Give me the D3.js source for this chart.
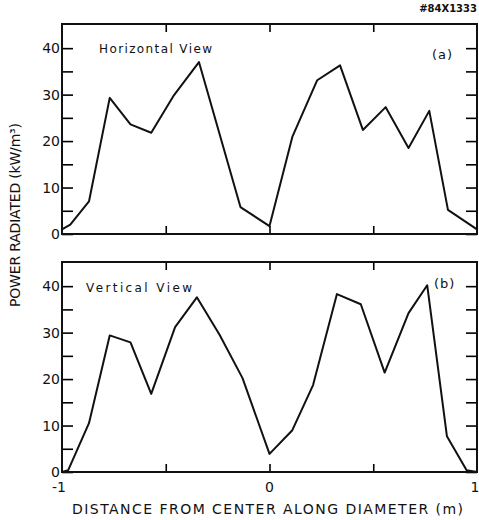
<!DOCTYPE html>
<html>
<head>
<meta charset="utf-8">
<script src="https://cdn.jsdelivr.net/npm/d3@7"></script>
<style>
  body { margin: 0; background: #fff; }
  text { font-family: "DejaVu Sans", sans-serif; fill: #111; }
</style>
</head>
<body>
<div id="chart"></div>
<script>
// data
var horizX = [-1, -0.96, -0.87, -0.77, -0.67, -0.57, -0.46, -0.34, -0.14, 0, 0.11, 0.23, 0.34, 0.45, 0.56, 0.67, 0.77, 0.86, 1];
var horizY = [1, 2, 7, 29.3, 23.6, 21.8, 29.9, 37, 5.8, 1.7, 20.9, 33.1, 36.3, 22.4, 27.3, 18.5, 26.5, 5.2, 1];

var vertX = [-1, -0.97, -0.87, -0.77, -0.67, -0.57, -0.455, -0.35, -0.24, -0.13, 0, 0.11, 0.21, 0.325, 0.44, 0.555, 0.67, 0.76, 0.855, 0.95, 1];
var vertY = [0, 0.4, 10.5, 29.4, 27.9, 16.8, 31.2, 37.6, 29.5, 20.2, 3.9, 9, 18.7, 38.3, 36.1, 21.4, 34.2, 40.2, 7.7, 0.4, 0];

var yTicks = [0, 10, 20, 30, 40];
var yMinor = [5, 15, 25, 35];
var xTicks = [-0.5, 0, 0.5];
var xLabels = [-1, 0, 1];

var width = 479, height = 520;
var left = 62, right = 477;

var svg = d3.select("#chart").append("svg")
  .attr("width", width)
  .attr("height", height);

var x = d3.scaleLinear().domain([-1, 1]).range([left, right]);

var panels = [
  {xs: horizX, ys: horizY, top: 24, bottom: 234, title: "Horizontal View", tw: 113, tag: "(a)", tx: 99, ty: 53, tagX: 432, tagY: 59},
  {xs: vertX, ys: vertY, top: 262, bottom: 472, title: "Vertical View", tw: 106, tag: "(b)", tx: 86, ty: 292, tagX: 434, tagY: 288}
];

panels.forEach(function(p) {
  var y = d3.scaleLinear().domain([0, 45.2]).range([p.bottom, p.top]);
  var g = svg.append("g");

  // ticks, pointing inward
  g.append("g")
    .attr("transform", "translate(" + left + ",0)")
    .call(d3.axisRight(y).tickValues(yTicks.concat(yMinor)).tickSize(11).tickFormat(""))
    .call(function(a) { a.select(".domain").remove(); a.selectAll("line").attr("stroke-width", 1.6); });
  g.append("g")
    .attr("transform", "translate(" + right + ",0)")
    .call(d3.axisLeft(y).tickValues(yTicks.concat(yMinor)).tickSize(11).tickFormat(""))
    .call(function(a) { a.select(".domain").remove(); a.selectAll("line").attr("stroke-width", 1.6); });
  g.append("g")
    .attr("transform", "translate(0," + p.top + ")")
    .call(d3.axisBottom(x).tickValues(xTicks).tickSize(8).tickFormat(""))
    .call(function(a) { a.select(".domain").remove(); a.selectAll("line").attr("stroke-width", 1.6); });
  g.append("g")
    .attr("transform", "translate(0," + p.bottom + ")")
    .call(d3.axisTop(x).tickValues(xTicks).tickSize(8).tickFormat(""))
    .call(function(a) { a.select(".domain").remove(); a.selectAll("line").attr("stroke-width", 1.6); });

  // frame
  g.append("rect")
    .attr("x", left).attr("y", p.top)
    .attr("width", right - left).attr("height", p.bottom - p.top)
    .attr("fill", "none").attr("stroke", "#111").attr("stroke-width", 2);

  // y tick labels
  g.selectAll(".ylab").data(yTicks).enter().append("text")
    .attr("x", left - 2)
    .attr("y", function(d) { return y(d) + 5; })
    .attr("text-anchor", "end")
    .style("font-size", "14px")
    .text(function(d) { return d; });

  // the line
  var line = d3.line()
    .x(function(d, i) { return x(p.xs[i]); })
    .y(function(d) { return y(d); });
  g.append("path")
    .datum(p.ys)
    .attr("d", line)
    .attr("fill", "none")
    .attr("stroke", "#111")
    .attr("stroke-width", 2)
    .attr("stroke-linejoin", "round");

  g.append("text")
    .attr("x", p.tx).attr("y", p.ty)
    .attr("textLength", p.tw)
    .attr("lengthAdjust", "spacing")
    .style("font-size", "12px")
    .text(p.title);
  g.append("text")
    .attr("x", p.tagX).attr("y", p.tagY)
    .style("font-size", "13px")
    .style("letter-spacing", "1px")
    .text(p.tag);
});

// x tick labels under the bottom panel
svg.selectAll(".xlab").data(xLabels).enter().append("text")
  .attr("x", function(d) { return x(d) + (d === 1 ? -2 : (d === -1 ? -3 : 0)); })
  .attr("y", 492)
  .attr("text-anchor", "middle")
  .style("font-size", "14px")
  .text(function(d) { return d === 1 ? "1" : (d === -1 ? "-1" : "0"); });

// axis titles
svg.append("text")
  .attr("x", 72).attr("y", 514)
  .attr("textLength", 391)
  .attr("lengthAdjust", "spacing")
  .style("font-size", "14px")
  .text("DISTANCE FROM CENTER ALONG DIAMETER (m)");

svg.append("text")
  .attr("transform", "translate(20,307) rotate(-90)")
  .attr("textLength", 184)
  .attr("lengthAdjust", "spacing")
  .style("font-size", "14px")
  .text("POWER RADIATED (kW/m³)");

svg.append("text")
  .attr("x", 477).attr("y", 12)
  .attr("text-anchor", "end")
  .style("font-size", "10px")
  .style("font-weight", "bold")
  .text("#84X1333");
</script>
</body>
</html>
